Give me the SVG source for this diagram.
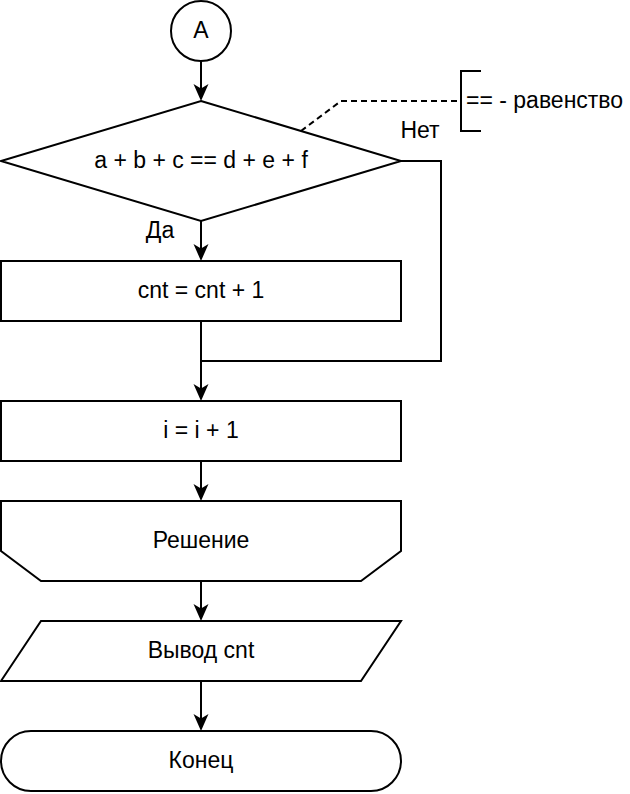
<svg xmlns="http://www.w3.org/2000/svg" width="630" height="794" viewBox="0 0 630 794">
<style>
.s{fill:#fff;stroke:#000;stroke-width:2}
.c{fill:none;stroke:#000;stroke-width:2}
.t{font-family:"Liberation Sans",Arial,sans-serif;font-size:23px;fill:#000;text-anchor:middle;dominant-baseline:central}
.l{font-family:"Liberation Sans",Arial,sans-serif;font-size:23px;fill:#000;dominant-baseline:central}
</style>
<defs>
<marker id="ar" markerUnits="userSpaceOnUse" markerWidth="18" markerHeight="18" refX="13" refY="8" orient="auto">
<path d="M0,0.5 L17,8 L0,15.5 L4.5,8 Z" fill="#000"/>
</marker>
</defs>
<g id="connectors">
<path class="c" d="M201,61 L201,97" marker-end="url(#ar)"/>
<path class="c" d="M201,221 L201,257" marker-end="url(#ar)"/>
<path class="c" d="M201,321 L201,397" marker-end="url(#ar)"/>
<path class="c" d="M401,161 L441,161 L441,361 L201,361"/>
<path class="c" d="M201,461 L201,497" marker-end="url(#ar)"/>
<path class="c" d="M201,581 L201,617" marker-end="url(#ar)"/>
<path class="c" d="M201,681 L201,727" marker-end="url(#ar)"/>
<text class="t" x="160" y="230">Да</text>
<text class="t" x="420" y="130">Нет</text>
</g>
<g id="start">
<circle class="s" cx="201" cy="31" r="30"/>
<text class="t" x="201" y="30">A</text>
</g>
<g id="decision">
<polygon class="s" points="201,101 401,161 201,221 1,161"/>
<text class="t" x="201" y="160">a + b + c == d + e + f</text>
</g>
<g id="comment">
<path class="c" d="M301,131 L341,101 L461,101" stroke-dasharray="6,4"/>
<path class="c" d="M481,71 L461,71 L461,131 L481,131"/>
<text class="l" x="466" y="100">== - равенство</text>
</g>
<g id="inc_cnt">
<rect class="s" x="1" y="261" width="400" height="60"/>
<text class="t" x="201" y="290">cnt = cnt + 1</text>
</g>
<g id="inc_i">
<rect class="s" x="1" y="401" width="400" height="60"/>
<text class="t" x="201" y="430">i = i + 1</text>
</g>
<g id="loop_end">
<polygon class="s" points="1,501 401,501 401,551 361,581 41,581 1,551"/>
<text class="t" x="201" y="540">Решение</text>
</g>
<g id="output">
<polygon class="s" points="41,621 401,621 361,681 1,681"/>
<text class="t" x="201" y="650">Вывод cnt</text>
</g>
<g id="end">
<rect class="s" x="1" y="731" width="400" height="60" rx="30" ry="30"/>
<text class="t" x="201" y="760">Конец</text>
</g>
</svg>
